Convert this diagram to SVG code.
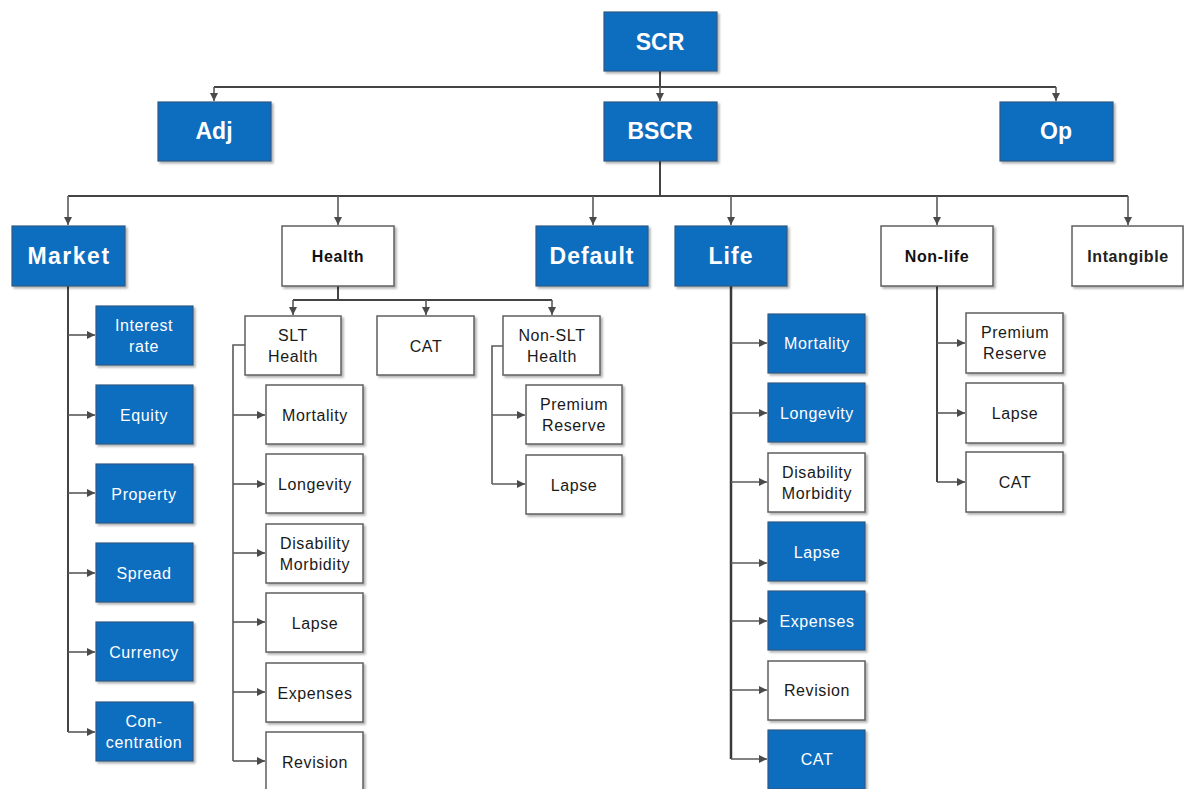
<svg xmlns="http://www.w3.org/2000/svg" width="1184" height="789" viewBox="0 0 1184 789">
  <style>
    .blue { fill: #0b6dbf; stroke: #2f5a86; stroke-width: 1.2; filter: url(#shadow); }
    .white { fill: #ffffff; stroke: #5f5f5f; stroke-width: 1.5; filter: url(#shadow); }
    .big { font-family: "Liberation Sans", Arial, sans-serif; font-weight: bold; font-size: 23px; fill: #ffffff; text-anchor: middle; }
    .mid { font-family: "Liberation Sans", Arial, sans-serif; font-weight: bold; font-size: 16px; fill: #111111; text-anchor: middle; letter-spacing: 0.6px; }
    .sw { font-family: "Liberation Sans", Arial, sans-serif; font-size: 16px; fill: #ffffff; text-anchor: middle; letter-spacing: 0.6px; }
    .sb { font-family: "Liberation Sans", Arial, sans-serif; font-size: 16px; fill: #1a1a1a; text-anchor: middle; letter-spacing: 0.6px; }
    .wire { fill: none; stroke: #5a5a5a; stroke-width: 1.6; }
    .trunk { fill: none; stroke: #444444; stroke-width: 2; }
    .arr { fill: none; stroke: #5a5a5a; stroke-width: 1.6; marker-end: url(#head); }
  </style>
  <defs>
    <marker id="head" viewBox="0 0 8 8" refX="8" refY="4" markerWidth="8" markerHeight="8" markerUnits="userSpaceOnUse" orient="auto">
      <path d="M0,0 L8,4 L0,8 z" fill="#4a4a4a"/>
    </marker>
    <filter id="shadow" x="-10%" y="-10%" width="130%" height="130%">
      <feDropShadow dx="2" dy="2" stdDeviation="1.2" flood-color="#000000" flood-opacity="0.3"/>
    </filter>
  </defs>

  <rect width="1184" height="789" fill="#ffffff"/>

  <!-- connectors -->
  <g id="connectors">
    <!-- SCR level -->
    <path class="trunk" d="M660 71 V87 M214 87 H1056"/>
    <path class="arr" d="M214 87 V101"/>
    <path class="arr" d="M660 87 V101"/>
    <path class="arr" d="M1056 87 V101"/>
    <!-- BSCR level -->
    <path class="trunk" d="M660 161 V196 M68 196 H1128"/>
    <path class="arr" d="M68 196 V225"/>
    <path class="arr" d="M338 196 V225"/>
    <path class="arr" d="M593 196 V225"/>
    <path class="arr" d="M731 196 V225"/>
    <path class="arr" d="M937 196 V225"/>
    <path class="arr" d="M1128 196 V225"/>
    <!-- Market branch -->
    <path class="trunk" d="M68 286 V732"/>
    <path class="arr" d="M68 335 H95"/>
    <path class="arr" d="M68 415 H95"/>
    <path class="arr" d="M68 493 H95"/>
    <path class="arr" d="M68 573 H95"/>
    <path class="arr" d="M68 652 H95"/>
    <path class="arr" d="M68 732 H95"/>
    <!-- Health branch -->
    <path class="trunk" d="M338 286 V300 M293 300 H552"/>
    <path class="arr" d="M293 300 V315"/>
    <path class="arr" d="M426 300 V315"/>
    <path class="arr" d="M552 300 V315"/>
    <!-- SLT Health branch -->
    <path class="wire" d="M245 345 H233 V761"/>
    <path class="arr" d="M233 415 H265"/>
    <path class="arr" d="M233 484 H265"/>
    <path class="arr" d="M233 553 H265"/>
    <path class="arr" d="M233 622 H265"/>
    <path class="arr" d="M233 692 H265"/>
    <path class="arr" d="M233 761 H265"/>
    <!-- Non-SLT Health branch -->
    <path class="wire" d="M503 346 H492 V484"/>
    <path class="arr" d="M492 415 H525"/>
    <path class="arr" d="M492 484 H525"/>
    <!-- Life branch -->
    <path class="trunk" d="M731 286 V759" style="stroke-width:2.5;stroke:#3a3a3a"/>
    <path class="arr" d="M731 343 H767"/>
    <path class="arr" d="M731 413 H767"/>
    <path class="arr" d="M731 482 H767"/>
    <path class="arr" d="M731 563 H767"/>
    <path class="arr" d="M731 621 H767"/>
    <path class="arr" d="M731 690 H767"/>
    <path class="arr" d="M731 759 H767"/>
    <!-- Non-life branch -->
    <path class="trunk" d="M937 286 V482"/>
    <path class="arr" d="M937 343 H965"/>
    <path class="arr" d="M937 413 H965"/>
    <path class="arr" d="M937 482 H965"/>
  </g>

  <!-- top levels -->
  <g id="scr"><rect class="blue" x="604" y="12" width="113" height="59"/><text class="big" x="660" y="50">SCR</text></g>
  <g id="adj"><rect class="blue" x="158" y="102" width="113" height="59"/><text class="big" x="214" y="139">Adj</text></g>
  <g id="bscr"><rect class="blue" x="604" y="102" width="113" height="59"/><text class="big" x="660" y="139">BSCR</text></g>
  <g id="op"><rect class="blue" x="1000" y="102" width="113" height="59"/><text class="big" x="1056" y="139">Op</text></g>

  <!-- risk modules -->
  <g id="market"><rect class="blue" x="12" y="226" width="113" height="60"/><text class="big" x="69" y="264" style="letter-spacing:1.5px">Market</text></g>
  <g id="health"><rect class="white" x="282" y="226" width="112" height="60"/><text class="mid" x="338" y="262">Health</text></g>
  <g id="default"><rect class="blue" x="536" y="226" width="112" height="60"/><text class="big" x="592" y="264" style="letter-spacing:1px">Default</text></g>
  <g id="life"><rect class="blue" x="675" y="226" width="112" height="60"/><text class="big" x="731" y="264" style="letter-spacing:1px">Life</text></g>
  <g id="nonlife"><rect class="white" x="881" y="226" width="112" height="60"/><text class="mid" x="937" y="262">Non-life</text></g>
  <g id="intangible"><rect class="white" x="1072" y="226" width="111" height="60"/><text class="mid" x="1128" y="262" style="fill:#222">Intangible</text></g>

  <!-- market sub-modules -->
  <g id="mkt-interest"><rect class="blue" x="96" y="306" width="97" height="59"/><text class="sw" x="144" y="331">Interest</text><text class="sw" x="144" y="352">rate</text></g>
  <g id="mkt-equity"><rect class="blue" x="96" y="385" width="97" height="59"/><text class="sw" x="144" y="421">Equity</text></g>
  <g id="mkt-property"><rect class="blue" x="96" y="464" width="97" height="59"/><text class="sw" x="144" y="500">Property</text></g>
  <g id="mkt-spread"><rect class="blue" x="96" y="543" width="97" height="59"/><text class="sw" x="144" y="579">Spread</text></g>
  <g id="mkt-currency"><rect class="blue" x="96" y="622" width="97" height="59"/><text class="sw" x="144" y="658">Currency</text></g>
  <g id="mkt-concentration"><rect class="blue" x="96" y="702" width="97" height="59"/><text class="sw" x="144" y="727">Con-</text><text class="sw" x="144" y="748">centration</text></g>

  <!-- health sub-modules -->
  <g id="slt-health"><rect class="white" x="245" y="316" width="96" height="59"/><text class="sb" x="293" y="341">SLT</text><text class="sb" x="293" y="362">Health</text></g>
  <g id="health-cat"><rect class="white" x="377" y="316" width="97" height="59"/><text class="sb" x="426" y="352">CAT</text></g>
  <g id="nonslt-health"><rect class="white" x="503" y="316" width="97" height="59"/><text class="sb" x="552" y="341">Non-SLT</text><text class="sb" x="552" y="362">Health</text></g>

  <g id="slt-mortality"><rect class="white" x="266" y="385" width="97" height="59"/><text class="sb" x="315" y="421">Mortality</text></g>
  <g id="slt-longevity"><rect class="white" x="266" y="454" width="97" height="59"/><text class="sb" x="315" y="490">Longevity</text></g>
  <g id="slt-disability"><rect class="white" x="266" y="524" width="97" height="59"/><text class="sb" x="315" y="549">Disability</text><text class="sb" x="315" y="570">Morbidity</text></g>
  <g id="slt-lapse"><rect class="white" x="266" y="593" width="97" height="59"/><text class="sb" x="315" y="629">Lapse</text></g>
  <g id="slt-expenses"><rect class="white" x="266" y="663" width="97" height="59"/><text class="sb" x="315" y="699">Expenses</text></g>
  <g id="slt-revision"><rect class="white" x="266" y="732" width="97" height="59"/><text class="sb" x="315" y="768">Revision</text></g>

  <g id="nonslt-premium"><rect class="white" x="526" y="385" width="96" height="59"/><text class="sb" x="574" y="410">Premium</text><text class="sb" x="574" y="431">Reserve</text></g>
  <g id="nonslt-lapse"><rect class="white" x="526" y="455" width="96" height="59"/><text class="sb" x="574" y="491">Lapse</text></g>

  <!-- life sub-modules -->
  <g id="life-mortality"><rect class="blue" x="768" y="314" width="97" height="59"/><text class="sw" x="817" y="349">Mortality</text></g>
  <g id="life-longevity"><rect class="blue" x="768" y="383" width="97" height="59"/><text class="sw" x="817" y="419">Longevity</text></g>
  <g id="life-disability"><rect class="white" x="768" y="453" width="97" height="59"/><text class="sb" x="817" y="478">Disability</text><text class="sb" x="817" y="499">Morbidity</text></g>
  <g id="life-lapse"><rect class="blue" x="768" y="522" width="97" height="59"/><text class="sw" x="817" y="558">Lapse</text></g>
  <g id="life-expenses"><rect class="blue" x="768" y="591" width="97" height="59"/><text class="sw" x="817" y="627">Expenses</text></g>
  <g id="life-revision"><rect class="white" x="768" y="661" width="97" height="59"/><text class="sb" x="817" y="696">Revision</text></g>
  <g id="life-cat"><rect class="blue" x="768" y="730" width="97" height="59"/><text class="sw" x="817" y="765">CAT</text></g>

  <!-- non-life sub-modules -->
  <g id="nl-premium"><rect class="white" x="966" y="313" width="97" height="60"/><text class="sb" x="1015" y="338">Premium</text><text class="sb" x="1015" y="359">Reserve</text></g>
  <g id="nl-lapse"><rect class="white" x="966" y="383" width="97" height="60"/><text class="sb" x="1015" y="419">Lapse</text></g>
  <g id="nl-cat"><rect class="white" x="966" y="452" width="97" height="60"/><text class="sb" x="1015" y="488">CAT</text></g>
</svg>
